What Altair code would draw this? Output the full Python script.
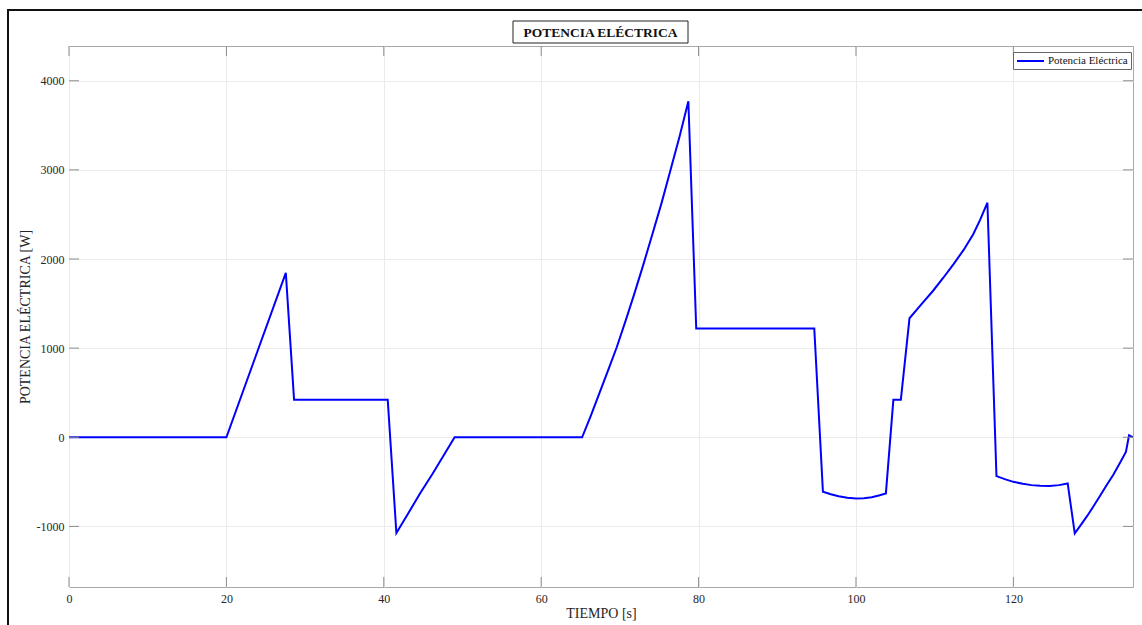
import altair as alt
import pandas as pd

# Electrical power trace over time
time_s = [0, 20.0, 27.55, 28.6, 40.5, 41.6, 43.0, 44.6, 46.2, 47.6, 49.0,
          65.2, 66.3, 67.4, 68.5, 69.6, 70.7, 71.8, 73.0, 74.1, 75.3, 76.4, 77.6, 78.7,
          79.7, 94.7,
          95.8, 96.8, 97.8, 98.9, 100.0, 101.0, 102.0, 102.9, 103.8,
          104.75, 105.7,
          106.8, 108.3, 109.8, 111.1, 112.4, 113.7, 114.9, 115.8, 116.7,
          117.85, 119.0, 120.0, 121.2, 122.3, 123.4, 124.6, 125.8, 126.9,
          127.8, 128.6, 129.4, 130.2, 131.0, 131.8, 132.7, 133.5, 134.3,
          134.7, 135.2]
power_w = [0, 0, 1845, 420, 420, -1074, -870, -630, -410, -205, 0,
           0, 240, 495, 750, 1010, 1300, 1600, 1943, 2270, 2630, 2987, 3380, 3770,
           1220, 1220,
           -612, -640, -662, -679, -686, -683, -672, -654, -630,
           420, 420,
           1335, 1490, 1644, 1790, 1943, 2105, 2278, 2445, 2632,
           -436, -472, -500, -522, -537, -545, -546, -537, -518,
           -1078, -980, -880, -772, -660, -545, -420, -295, -164,
           22, 0]
series_name = "Potencia Eléctrica"

x_ticks = [0, 20, 40, 60, 80, 100, 120]
y_ticks = [-1000, 0, 1000, 2000, 3000, 4000]

chart_title = "POTENCIA ELÉCTRICA"
x_title = "TIEMPO [s]"
y_title = "POTENCIA ELÉCTRICA [W]"

W, H = 1064, 541
FONT = "Liberation Serif"

df = pd.DataFrame({"t": time_s, "p": power_w, "serie": series_name})
xt_df = pd.DataFrame({"t": x_ticks})
yt_df = pd.DataFrame({"p": y_ticks})
title_df = pd.DataFrame({"s": [chart_title]})

x_scale = alt.Scale(domain=[0, 135.2], nice=False, zero=False)
y_scale = alt.Scale(domain=[-1680, 4390], nice=False, zero=False)
# plain integer labels with an ASCII hyphen for negatives
plain_label = "'' + datum.value"
x_axis = alt.Axis(values=x_ticks, title=x_title, labelExpr=plain_label,
                  labelFlush=False, labelPadding=6, titlePadding=2, grid=True)
y_axis = alt.Axis(values=y_ticks, title=y_title, labelExpr=plain_label,
                  labelFlush=False, labelPadding=5, titlePadding=4, grid=True)
x_enc = alt.X("t:Q", scale=x_scale, axis=x_axis)
y_enc = alt.Y("p:Q", scale=y_scale, axis=y_axis)

line = alt.Chart(df).mark_line(strokeWidth=2, clip=True).encode(
    x=x_enc,
    y=y_enc,
    color=alt.Color("serie:N", scale=alt.Scale(range=["#0000ff"]),
                    legend=alt.Legend(title=None, orient="none",
                                      legendX=944, legendY=6,
                                      symbolType="M-1,0L4.4,0", symbolSize=100,
                                      symbolStrokeWidth=2,
                                      labelFont=FONT, labelFontSize=11,
                                      labelColor="#111",
                                      strokeColor="#666", fillColor="white",
                                      padding=3, labelOffset=20)),
)

# inward tick marks on all four sides of the box
tick_color = "#8c8c8c"
yt = alt.Chart(yt_df).mark_rule(color=tick_color, strokeWidth=1)
xt = alt.Chart(xt_df).mark_rule(color=tick_color, strokeWidth=1)
left_ticks = yt.encode(y=y_enc, x=alt.value(0), x2=alt.value(10))
right_ticks = yt.encode(y=y_enc, x=alt.value(W - 10), x2=alt.value(W))
bottom_ticks = xt.encode(x=x_enc, y=alt.value(H - 10), y2=alt.value(H))
top_ticks = xt.encode(x=x_enc, y=alt.value(0), y2=alt.value(10))

# boxed title above the plot
title_box = alt.Chart(title_df).mark_rect(
    fill="white", stroke="#222", strokeWidth=1
).encode(x=alt.value(444), x2=alt.value(619), y=alt.value(-25), y2=alt.value(-3))
title_text = alt.Chart(title_df).mark_text(
    font=FONT, fontSize=13.5, fontWeight="bold", color="#111",
    align="center", baseline="middle"
).encode(text="s:N", x=alt.value(531.5), y=alt.value(-13.5))

# outer figure frame
frame = alt.Chart(title_df).mark_rect(
    fill="white", fillOpacity=0, stroke="#111", strokeWidth=2
).encode(x=alt.value(-61), x2=alt.value(1080), y=alt.value(-36), y2=alt.value(590))

chart = alt.layer(
    frame, line, left_ticks, right_ticks, bottom_ticks, top_ticks,
    title_box, title_text
).properties(
    width=W, height=H,
    autosize=alt.AutoSizeParams(type="none"),
    padding={"left": 69, "top": 46, "right": 9, "bottom": 38},
    background="white",
).configure_view(
    stroke="#a8a8a8", strokeWidth=1
).configure_axis(
    labelFont=FONT, titleFont=FONT, labelFontSize=12, titleFontSize=14,
    titleFontWeight="normal", labelColor="#262626", titleColor="#262626",
    gridColor="#ebebeb", gridWidth=1, domain=False, ticks=False,
)

chart.save("out.html", embed_options={"renderer": "svg", "actions": False})
